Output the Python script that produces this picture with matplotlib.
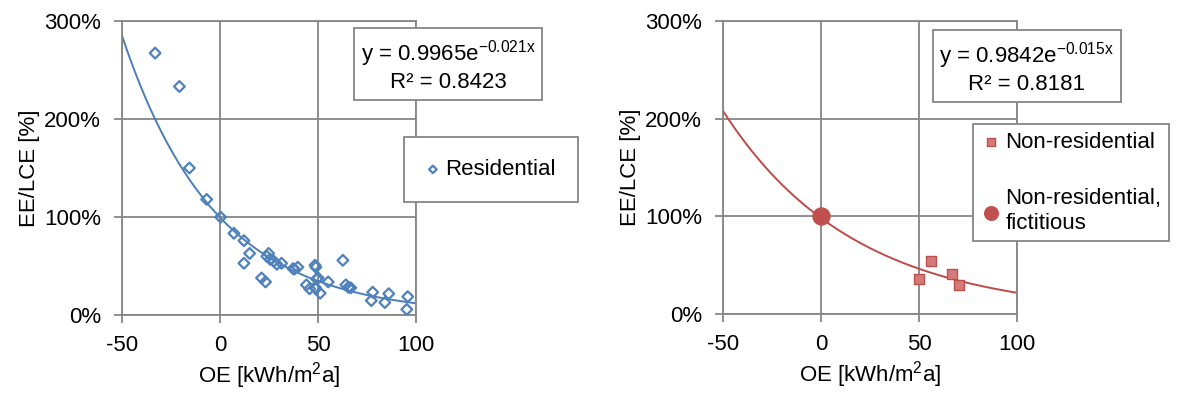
import numpy as np
import matplotlib
matplotlib.use("Agg")
import matplotlib.pyplot as plt

plt.rcParams['font.family'] = ['Liberation Sans', 'DejaVu Sans']
plt.rcParams['mathtext.default'] = 'regular'
plt.rcParams['axes.unicode_minus'] = False

# ---- data ----
res_x = [-33.1, -20.7, -15.6, -6.8, 0.3, 7.1, 12.2, 15.1, 12.2, 21.2, 23.2, 24.8, 23.9, 25.6,
         27.5, 29.0, 31.4, 37.3, 39.7, 48.9, 48.5, 49.3, 50.1, 44.1, 45.7, 48.9, 51.1, 55.2,
         62.7, 64.2, 65.5, 66.7, 77.9, 77.2, 84.1, 86.1, 95.8, 95.3, 48.5, 37.9]
res_y = [267, 233, 150, 118, 100, 83.5, 76, 63, 53, 38, 34, 63, 60, 57,
         55, 52, 53, 47.5, 49, 49, 28.5, 37, 38, 31, 27, 27, 22.5, 34,
         56, 31, 28.5, 28, 23.5, 15, 13, 22, 19, 6, 51, 47]
nonres_x = [50.1, 55.9, 66.9, 70.2]
nonres_y = [36.3, 54.1, 41.4, 29.9]
fict_x = [0]
fict_y = [100]
res_fit = (0.9965, -0.021, 0.8423)
nonres_fit = (0.9842, -0.015, 0.8181)
xticks = [-50, 0, 50, 100]
yticks = [0, 100, 200, 300]
xlabel = 'OE [kWh/m$^{2}$a]'
ylabel = 'EE/LCE [%]'

W, H = 1177, 394
fig = plt.figure(figsize=(W / 100, H / 100), dpi=100)
GRID = '#868686'
FS = 16


def setup(ax):
    ax.set_xlim(-50, 100)
    ax.set_ylim(0, 300)
    ax.set_xticks(xticks)
    ax.set_yticks(yticks)
    ax.set_yticklabels([f'{v}%' for v in yticks])
    ax.grid(True, color=GRID, linewidth=1.3)
    ax.set_axisbelow(True)
    for s in ax.spines.values():
        s.set_color(GRID)
        s.set_linewidth(1.3)
    ax.tick_params(direction='out', length=6, width=1.3, color=GRID,
                   labelsize=FS, pad=9)
    ax.tick_params(axis='x', pad=8)
    ax.set_xlabel(xlabel, fontsize=FS, labelpad=3)
    ax.set_ylabel(ylabel, fontsize=FS, labelpad=3)


xs = np.linspace(-50, 100, 300)
box = dict(boxstyle='square,pad=0.3', fc='white', ec=GRID, lw=1.3)

# left
ax1 = fig.add_axes([122 / W, 1 - 315.3 / H, 294 / W, 294.6 / H])
setup(ax1)
a, b, r2 = res_fit
ax1.plot(xs, 100 * a * np.exp(b * xs), color='#4A7EBB', lw=1.4, zorder=2)
ax1.scatter(res_x, res_y, marker='D', s=30, facecolors='none', edgecolors='#4F81BD',
            linewidths=1.6, zorder=3, label='Residential', clip_on=False)
ax1.text(448 / W, 1 - 65.5 / H, f'y = {a}e$^{{{b}x}}$\nR² = {r2}', transform=fig.transFigure,
         ha='center', va='center', fontsize=FS, linespacing=1.2, bbox=box)
leg1 = ax1.legend(loc='upper left', bbox_to_anchor=(404 / W, 1 - 137 / H), bbox_transform=fig.transFigure,
                  fontsize=FS, frameon=True, fancybox=False, edgecolor=GRID, framealpha=1,
                  borderpad=1.0, handletextpad=0.25, handlelength=0.6, borderaxespad=0,
                  markerscale=0.7)
leg1.get_frame().set_linewidth(1.3)

# right
ax2 = fig.add_axes([722.7 / W, 1 - 314.3 / H, 294.6 / W, 293.6 / H])
setup(ax2)
a, b, r2 = nonres_fit
ax2.plot(xs, 100 * a * np.exp(b * xs), color='#BE4B48', lw=1.4, zorder=2)
ax2.scatter(nonres_x, nonres_y, marker='s', s=45, facecolors='#D27B78', edgecolors='#C0504D',
            linewidths=1.0, zorder=3, label='Non-residential')
ax2.scatter(fict_x, fict_y, marker='o', s=150, color='#C0504D', zorder=4,
            label='Non-residential,\nfictitious', clip_on=False)
ax2.text(1026.7 / W, 1 - 67.5 / H, f'y = {a}e$^{{{b}x}}$\nR² = {r2}', transform=fig.transFigure,
         ha='center', va='center', fontsize=FS, linespacing=1.2, bbox=box)
leg2 = ax2.legend(loc='upper left', bbox_to_anchor=(973 / W, 1 - 124 / H), bbox_transform=fig.transFigure,
                  fontsize=FS, frameon=True, fancybox=False, edgecolor=GRID, framealpha=1,
                  borderpad=0.35, handletextpad=0.2, handlelength=0.9, borderaxespad=0,
                  labelspacing=1.6, markerscale=0.8)
leg2.get_frame().set_linewidth(1.3)

fig.savefig('out.png', dpi=100)
